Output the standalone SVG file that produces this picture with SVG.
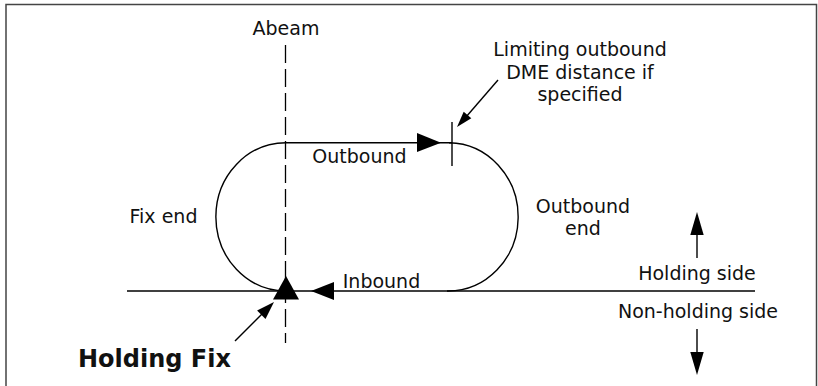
<svg xmlns="http://www.w3.org/2000/svg" width="818" height="386" viewBox="0 0 818 386">
<style>
text{font-family:"DejaVu Sans","Liberation Sans",sans-serif;font-size:19px;fill:#111}
.bold{font-weight:bold;font-size:24px}
.ln{fill:none;stroke:#000;stroke-width:1.4}
.dash{fill:none;stroke:#000;stroke-width:1.3;stroke-dasharray:18 6}
.head{fill:#000;stroke:none}
</style>
<rect width="818" height="386" fill="#fff"/>
<path d="M6 386 V4.5 H816.5 V386" fill="none" stroke="#444" stroke-width="1.5"/>
<g id="abeam-line">
<line class="dash" x1="285.5" y1="45" x2="285.5" y2="343"/>
<text x="286" y="35" text-anchor="middle">Abeam</text>
</g>
<g id="holding-pattern">
<path class="ln" d="M452 142.7 H286 A70 74 0 0 0 286 291"/>
<path class="ln" d="M449 142.7 A70 74 0 0 1 447 291"/>
<line class="ln" x1="127" y1="291" x2="755" y2="291"/>
</g>
<g id="connectors">
<polygon class="head" points="417,133 441,142.7 417,152"/>
<polygon class="head" points="334,282 311,291 334,300"/>
<line class="ln" x1="452" y1="122" x2="452" y2="166" stroke-width="1.2"/>
<line class="ln" x1="498" y1="80" x2="466" y2="117" stroke-width="1.2"/>
<polygon class="head" points="457,127 471.3,118.3 463.7,111.7"/>
<line class="ln" x1="235" y1="341" x2="263" y2="313" stroke-width="1.2"/>
<polygon class="head" points="274,302 265.5,318.9 257.1,310.5"/>
<line class="ln" x1="697" y1="233" x2="697" y2="258" stroke-width="1.3"/>
<polygon class="head" points="697,212 690.3,235 703.7,235"/>
<line class="ln" x1="697" y1="329" x2="697" y2="354" stroke-width="1.3"/>
<polygon class="head" points="697,375 690.3,352 703.7,352"/>
</g>
<g id="holding-fix">
<polygon class="head" points="286,276 273,299.5 299,299.5"/>
<text class="bold" x="78" y="366.5">Holding Fix</text>
</g>
<g id="outbound-label"><text x="359.5" y="163" text-anchor="middle">Outbound</text></g>
<g id="inbound-label"><text x="381.5" y="288" text-anchor="middle">Inbound</text></g>
<g id="fix-end-label"><text x="163.5" y="223" text-anchor="middle">Fix end</text></g>
<g id="outbound-end-label">
<text x="583" y="213" text-anchor="middle">Outbound</text>
<text x="583" y="234.5" text-anchor="middle">end</text>
</g>
<g id="dme-label">
<text x="580" y="56" text-anchor="middle">Limiting outbound</text>
<text x="580" y="79" text-anchor="middle">DME distance if</text>
<text x="580" y="101" text-anchor="middle">specified</text>
</g>
<g id="holding-side-label"><text x="697" y="280" text-anchor="middle">Holding side</text></g>
<g id="non-holding-side-label"><text x="698" y="318" text-anchor="middle">Non-holding side</text></g>
</svg>
